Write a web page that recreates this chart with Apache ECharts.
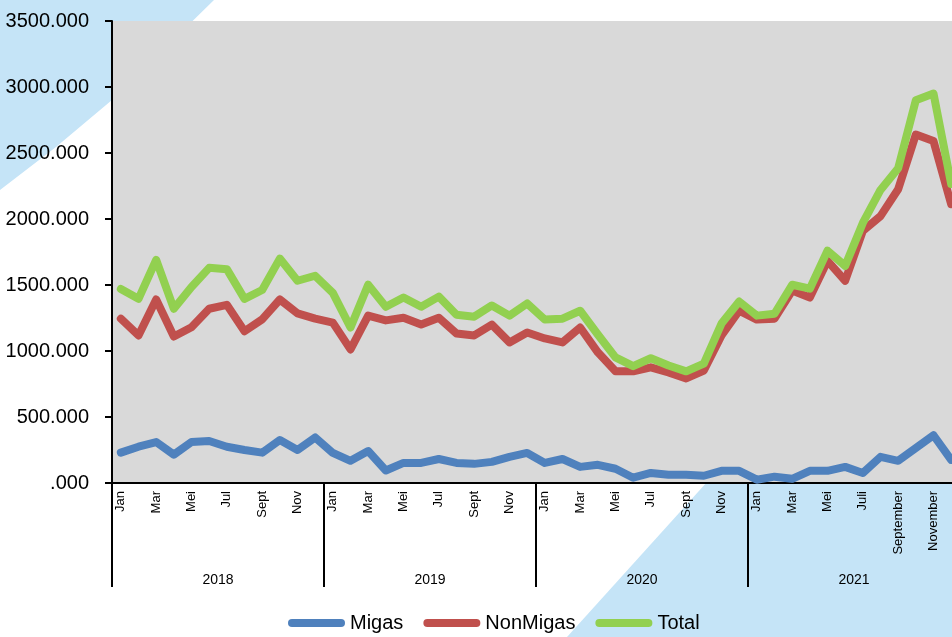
<!DOCTYPE html>
<html>
<head>
<meta charset="utf-8">
<script src="https://cdn.jsdelivr.net/npm/echarts@6/dist/echarts.min.js"></script>
<style>
  html, body { margin: 0; padding: 0; background: #fff; overflow: hidden; }
  #chart { width: 960px; height: 637px; }
</style>
</head>
<body>
<div id="chart"></div>
<script>
var months = [
    'Jan','Feb','Mar','Apr','Mei','Jun','Jul','Agu','Sept','Okt','Nov','Des',
    'Jan','Feb','Mar','Apr','Mei','Jun','Jul','Agu','Sept','Okt','Nov','Des',
    'Jan','Feb','Mar','Apr','Mei','Jun','Jul','Agu','Sept','Okt','Nov','Des',
    'Jan','Feb','Mar','Apr','Mei','Jun','Juli','Agustus','September','Oktober','November','Desember'
];
var years = ['2018', '2019', '2020', '2021'];
var yTicks = [0, 500, 1000, 1500, 2000, 2500, 3000, 3500];

var migas = [
    230, 275, 310, 215, 310, 318, 275, 250, 230, 325, 250, 345,
    228, 168, 242, 95, 152, 152, 182, 152, 145, 160, 198, 228,
    152, 182, 122, 138, 108, 40, 76, 62, 62, 55, 92, 92,
    25, 48, 32, 92, 92, 122, 76, 198, 168, 265, 362, 175
];
var nonMigas = [
    1245, 1118, 1390, 1110, 1180, 1320, 1350, 1150, 1240, 1390, 1285, 1245,
    1215, 1012, 1268, 1232, 1252, 1200, 1252, 1132, 1118, 1200, 1065, 1140,
    1095, 1065, 1178, 990, 846, 846, 876, 838, 792, 852, 1118, 1305,
    1238, 1245, 1458, 1405, 1683, 1532, 1910, 2022, 2225, 2640, 2590, 2112
];
var total = [
    1470, 1395, 1690, 1320, 1485, 1630, 1620, 1395, 1462, 1700, 1532, 1570,
    1440, 1178, 1502, 1335, 1405, 1335, 1412, 1275, 1260, 1345, 1268, 1360,
    1238, 1245, 1305, 1125, 952, 885, 945, 890, 846, 905, 1208, 1375,
    1268, 1282, 1502, 1472, 1760, 1645, 1970, 2220, 2385, 2900, 2950, 2265
];

var font = 'Liberation Sans, Arial, sans-serif';
var capsule = 'path://M4,0 H53 A4,4 0 0 1 53,8 H4 A4,4 0 0 1 4,0 Z';

var chart = echarts.init(document.getElementById('chart'));
chart.setOption({
    animation: false,
    textStyle: { fontFamily: font },
    graphic: [
        {
            type: 'polygon', z: -10, silent: true,
            shape: { points: [[0, 0], [214, 0], [165, 48], [112, 100], [56, 147], [0, 190]] },
            style: { fill: '#c5e4f7' }
        },
        {
            type: 'polygon', z: -10, silent: true,
            shape: { points: [[567, 637], [960, 637], [960, 202]] },
            style: { fill: '#c5e4f7' }
        }
    ],
    grid: {
        left: 112, top: 21, right: 0, height: 462,
        show: true, backgroundColor: '#d9d9d9', borderWidth: 0
    },
    legend: {
        left: 288, top: 613, padding: 0,
        itemWidth: 57, itemHeight: 8, itemGap: 20,
        icon: capsule,
        textStyle: { fontSize: 20, color: '#000', fontFamily: font },
        data: ['Migas', 'NonMigas', 'Total']
    },
    xAxis: [
        {
            type: 'category',
            data: months,
            boundaryGap: true,
            axisLine: { lineStyle: { color: '#000', width: 2 } },
            axisTick: { show: false },
            axisLabel: { interval: 1, rotate: 90, fontSize: 13, margin: 8, color: '#000' }
        },
        {
            type: 'category',
            data: years,
            position: 'bottom',
            boundaryGap: true,
            axisLine: { show: false },
            axisTick: { show: true, interval: 0, length: 104, lineStyle: { color: '#000', width: 2 } },
            axisLabel: { interval: 0, fontSize: 14, margin: 90, color: '#000' }
        }
    ],
    yAxis: {
        type: 'value',
        min: yTicks[0], max: yTicks[yTicks.length - 1], interval: 500,
        axisLine: { show: true, lineStyle: { color: '#000', width: 2 } },
        axisTick: { show: true, length: 7, lineStyle: { color: '#000', width: 2 } },
        splitLine: { show: false },
        axisLabel: {
            fontSize: 20, margin: 23, color: '#000',
            formatter: function (v) { return v === 0 ? '.000' : v + '.000'; }
        }
    },
    series: [
        {
            name: 'Migas', type: 'line', data: migas, symbol: 'none',
            color: '#4f81bd',
            lineStyle: { width: 8, color: '#4f81bd', cap: 'round', join: 'round' }
        },
        {
            name: 'NonMigas', type: 'line', data: nonMigas, symbol: 'none',
            color: '#c0504d',
            lineStyle: { width: 8, color: '#c0504d', cap: 'round', join: 'round' }
        },
        {
            name: 'Total', type: 'line', data: total, symbol: 'none',
            color: '#92d050',
            lineStyle: { width: 8, color: '#92d050', cap: 'round', join: 'round' }
        }
    ]
});
</script>
</body>
</html>
